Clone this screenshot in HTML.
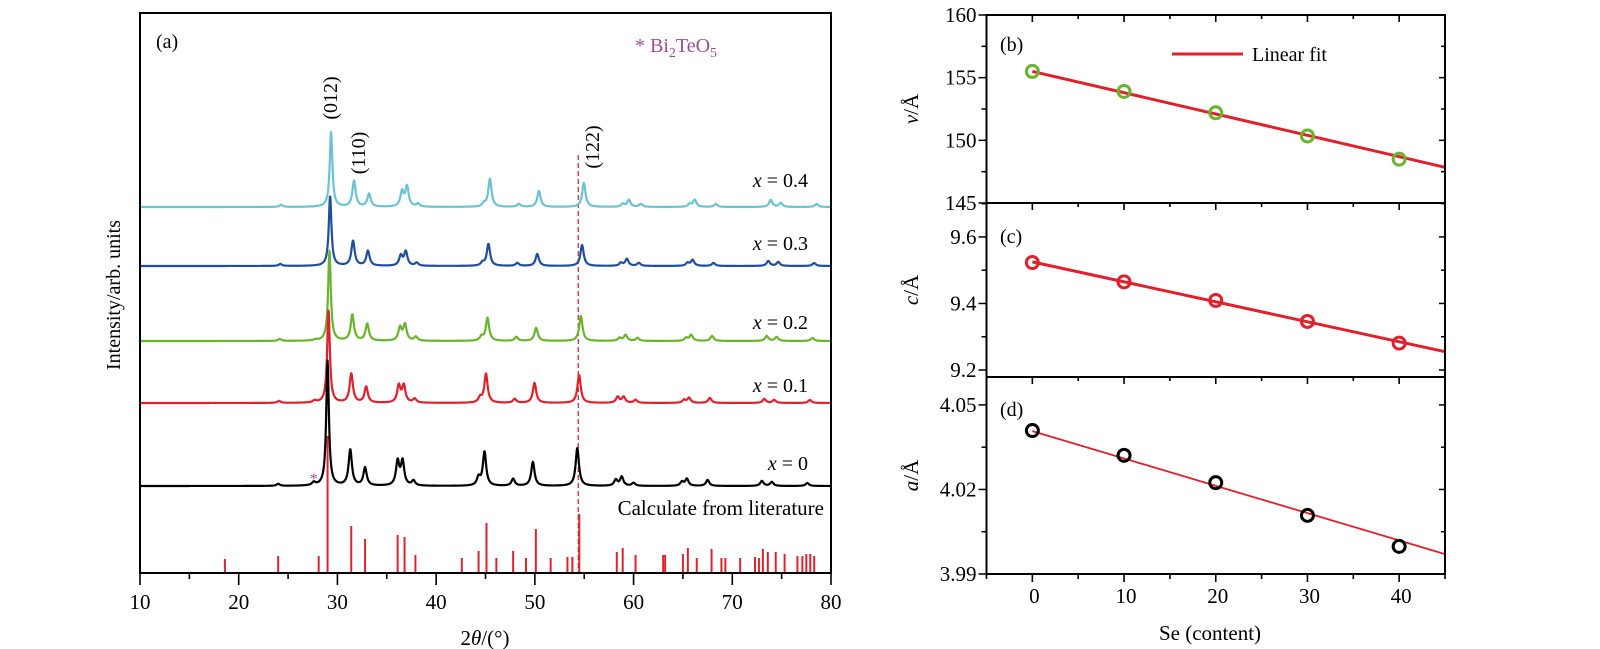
<!DOCTYPE html>
<html><head><meta charset="utf-8">
<style>
html,body{margin:0;padding:0;background:#fff;}
svg{display:block;font-family:"Liberation Serif",serif;}
</style></head>
<body>
<svg id="fig" width="1600" height="649" viewBox="0 0 1600 649" xmlns="http://www.w3.org/2000/svg"></svg>
<script>
// ---------- Panel (a) data ----------
const peakPos = [24.0, 27.6, 29.0, 31.3, 32.8, 36.1, 36.6, 37.7, 44.3, 44.9, 47.8, 49.8, 54.3, 58.2, 58.8, 60.0, 64.9, 65.4, 67.5, 73.0, 74.0, 77.6];
const sampleLabels = ["x = 0", "x = 0.1", "x = 0.2", "x = 0.3", "x = 0.4"];
const sampleShift = [0, 0.15, 0.3, 0.4, 0.55];
const peaksX0  = [2, 3, 125, 36, 18, 24, 24, 5, 8, 34, 7, 24, 38, 6, 9, 3, 4, 7, 6, 5, 4, 3];
const peaksX01 = [2, 2, 93, 29, 16, 17, 17, 4, 5, 29, 4, 20, 28, 6, 6, 3, 3, 5, 5, 4, 3, 3];
const peaksX02 = [2, 1, 90, 26, 17, 13, 16, 4, 4, 23, 4, 13, 25, 3, 6, 3, 3, 6, 5, 5, 4, 3];
const peaksX03 = [2, 0, 70, 25, 15, 10, 14, 3, 3, 22, 3, 12, 21, 3, 7, 3, 3, 6, 3, 5, 4, 3];
const peaksX04 = [2, 0, 75, 26, 13, 15, 20, 3, 3, 28, 3, 16, 24, 3, 7, 3, 3, 7, 3, 7, 4, 3];
const sampleOffset = [87, 170, 232, 307, 366];   // vertical stacking offsets (intensity units)
const refPos = [18.6, 24.0, 28.1, 29.0, 31.4, 32.8, 36.1, 36.8, 37.9, 42.6, 44.3, 45.1, 46.1, 47.8, 49.1, 50.1, 51.6, 53.3, 53.8, 54.5, 58.3, 58.9, 60.2, 63.0, 63.2, 65.0, 65.5, 66.4, 67.9, 68.9, 69.3, 70.8, 72.3, 72.7, 73.1, 73.6, 74.4, 75.3, 76.6, 77.1, 77.5, 77.9, 78.3];
const refInt = [14, 17, 17, 137, 47, 34, 38, 36, 18, 15, 22, 50, 15, 22, 15, 44, 15, 16, 16, 59, 21, 25, 18, 18, 18, 19, 25, 15, 24, 15, 15, 15, 16, 15, 24, 21, 21, 19, 17, 17, 19, 19, 17];
const xTicks = [10, 20, 30, 40, 50, 60, 70, 80];

// ---------- Panels (b)-(d) data ----------
const seContent = [0, 10, 20, 30, 40];
const volV = [155.5, 153.9, 152.2, 150.35, 148.5];
const latC = [9.523, 9.465, 9.409, 9.346, 9.281];
const latA = [4.0409, 4.0321, 4.0224, 4.0108, 3.9998];
const fitV = [155.5, -0.170];
const fitC = [9.525, -0.0060];
const fitA = [4.0407, -0.00097];
const seTicks = [0, 10, 20, 30, 40];
const vTicks = [145, 150, 155, 160];
const cTicks = [9.2, 9.4, 9.6];
const aTicks = [3.99, 4.02, 4.05];

const NS = "http://www.w3.org/2000/svg";
const svg = document.getElementById("fig");
function el(tag, attrs, parent) {
  const e = document.createElementNS(NS, tag);
  for (const k in attrs) e.setAttribute(k, attrs[k]);
  (parent || svg).appendChild(e);
  return e;
}

// ===== Panel (a) =====
const A = {l: 140, r: 831, t: 13, b: 573};
const ax = v => A.l + (v - 10) / 70 * (A.r - A.l);
const ay = v => A.b - v;   // 1 intensity unit = 1 px
const gA = el("g", {});



// reference bars
refPos.forEach((p, i) => {
  const b = el("line", {x1: ax(p), x2: ax(p), y1: ay(0), y2: ay(refInt[i]), stroke: "#d9262e", "stroke-width": 2}, gA);
  
  
});
// dashed line (122)
const dl = el("line", {x1: ax(54.4), x2: ax(54.4), y1: 155, y2: A.b, stroke: "#c8323a", "stroke-width": 1.3, "stroke-dasharray": "5,3"}, gA);



const samplePeaks = [peaksX0, peaksX01, peaksX02, peaksX03, peaksX04];
const sampleColors = ["#000000", "#e0202a", "#6ab42d", "#1f4e9e", "#6cc3d0"];
const order = [4, 3, 2, 1, 0];
order.forEach(si => {
  const hts = samplePeaks[si];
  let d = "";
  for (let t = 10; t <= 80.0001; t += 0.04) {
    let s = 0;
    peakPos.forEach((p, k) => {
      const c = p + sampleShift[si] * p / 45;
      const w = p < 30 && k === 2 ? 0.16 : 0.2;
      const dx = (t - c) / w;
      s += hts[k] / (1 + dx * dx);
    });
    d += (d ? "L" : "M") + ax(t).toFixed(2) + "," + ay(sampleOffset[si] + s).toFixed(2);
  }
  const path = el("path", {d: d, fill: "none", stroke: sampleColors[si], "stroke-width": 2.2, "stroke-linejoin": "round"}, gA);
  
  
});
const labY = [463, 385, 322, 243, 180];
sampleLabels.forEach((lab, i) => {
  const parts = lab.split(" = ");
  const tx = el("text", {x: 808, y: labY[i] + 7, "text-anchor": "end", "font-size": 20}, gA);
  tx.innerHTML = '<tspan font-style="italic">' + parts[0] + '</tspan> = ' + parts[1];
  
  
});
// asterisk
const ast = el("text", {x: ax(27.6), y: 484, "text-anchor": "middle", "font-size": 16, fill: "#9b4f96"}, gA);
ast.textContent = "*";



// frame
const fr = el("rect", {x: A.l, y: A.t, width: A.r - A.l, height: A.b - A.t, fill: "none", stroke: "#000", "stroke-width": 2}, gA);


// ticks
for (let v = 10; v <= 80; v += 5) {
  const major = v % 10 === 0;
  const tk = el("line", {x1: ax(v), x2: ax(v), y1: A.b, y2: A.b + (major ? 12 : 6), stroke: "#000", "stroke-width": 1.6}, gA);
  
  
}
xTicks.forEach(v => {
  const t = el("text", {x: ax(v), y: 609, "text-anchor": "middle", "font-size": 21}, gA);
  t.textContent = v;
  
  
});
function txt(x, y, html, size, name, extra) {
  const t = el("text", Object.assign({x: x, y: y, "font-size": size}, extra || {}));
  t.innerHTML = html;
  
  
  return t;
}
txt(485, 645, '2<tspan font-style="italic">θ</tspan>/(°)', 21, 'x-axis-title', {"text-anchor": "middle"});
txt(120, 295, 'Intensity/arb. units', 20, 'y-axis-title', {"text-anchor": "middle", transform: "rotate(-90 120 295)"});
txt(156, 48, '(a)', 20, 'panel-label-a');
txt(635, 52, '* Bi<tspan font-size="14" dy="5">2</tspan><tspan dy="-5">TeO</tspan><tspan font-size="14" dy="5">5</tspan>', 20, 'impurity-legend', {fill: "#9b4f96"});
txt(824, 515, 'Calculate from literature', 21, 'reference-label', {"text-anchor": "end"});
txt(337, 98, '(012)', 20, 'peak-label-012', {"text-anchor": "middle", transform: "rotate(-90 337 98)"});
txt(365, 153, '(110)', 20, 'peak-label-110', {"text-anchor": "middle", transform: "rotate(-90 365 153)"});
txt(599, 147, '(122)', 20, 'peak-label-122', {"text-anchor": "middle", transform: "rotate(-90 599 147)"});

// ===== Panels (b)-(d) =====
const R = {l: 986.5, r: 1445};
const rx = v => R.l + (v + 5) / 50 * (R.r - R.l);
const panels = [
  {name: "b", t: 15, b: 203, min: 145, max: 160, vals: volV, fit: fitV, ticks: vTicks, minor: 2.5, color: "#6ab42d", ylab: "v", fmt: v => v.toFixed(0), labY: 44, lineW: 3},
  {name: "c", t: 203, b: 377, min: 9.179, max: 9.702, vals: latC, fit: fitC, ticks: cTicks, minor: 0.1, color: "#e0202a", ylab: "c", fmt: v => v.toFixed(1), labY: 236, lineW: 3},
  {name: "d", t: 377, b: 574, min: 3.99, max: 4.0599, vals: latA, fit: fitA, ticks: aTicks, minor: 0.015, color: "#000000", ylab: "a", fmt: v => v.toFixed(2), labY: 409, lineW: 1.8}
];
panels.forEach(P => {
  const g = el("g", {});
  
  
  const py = v => P.b - (v - P.min) / (P.max - P.min) * (P.b - P.t);
  // fit line
  const f = el("line", {x1: rx(0), y1: py(P.fit[0]), x2: rx(45), y2: py(P.fit[0] + P.fit[1] * 45), stroke: "#e0202a", "stroke-width": P.lineW}, g);
  
  
  // markers
  seContent.forEach((s, i) => {
    const c = el("circle", {cx: rx(s), cy: py(P.vals[i]), r: 6, fill: "none", stroke: P.color, "stroke-width": 3}, g);
    
    
  });
  const fr = el("rect", {x: R.l, y: P.t, width: R.r - R.l, height: P.b - P.t, fill: "none", stroke: "#000", "stroke-width": 2}, g);
  
  
  // x ticks at top (inward) and bottom
  for (let v = -5; v <= 45; v += 5) {
    const major = v % 10 === 0;
    if (v > -5 && v < 45) {
      const tk = el("line", {x1: rx(v), x2: rx(v), y1: P.t, y2: P.t + (major ? 7 : 4), stroke: "#000", "stroke-width": 1.6}, g);
      
      
    }
  }
  // y ticks
  for (let v = P.ticks[0]; v <= P.max + 1e-9; v += P.minor) {
    if (v < P.min - 1e-9) continue;
    const major = P.ticks.some(t => Math.abs(t - v) < 1e-6);
    const y = py(v);
    const t1 = el("line", {x1: R.l - (major ? 8 : 5), x2: R.l, y1: y, y2: y, stroke: "#000", "stroke-width": 1.5}, g);
    
    
    const t2 = el("line", {x1: R.r - (major ? 6 : 4), x2: R.r, y1: y, y2: y, stroke: "#000", "stroke-width": 1.5}, g);
    
    
  }
  P.ticks.forEach(v => {
    const t = el("text", {x: R.l - 10, y: py(v) + 7, "text-anchor": "end", "font-size": 21}, g);
    t.textContent = P.fmt(v);
    
    
  });
  const cy = (P.t + P.b) / 2;
  const yl = el("text", {x: 918, y: cy, "text-anchor": "middle", "font-size": 21, transform: "rotate(-90 918 " + cy + ")"}, g);
  yl.innerHTML = '<tspan font-style="italic">' + P.ylab + '</tspan>/Å';
  
  
  const pl = el("text", {x: 1000, y: P.labY + 7, "font-size": 20}, g);
  pl.textContent = "(" + P.name + ")";
  
  
});
// bottom ticks
for (let v = -5; v <= 45; v += 5) {
  const major = v % 10 === 0;
  const tk = el("line", {x1: rx(v), x2: rx(v), y1: 574, y2: 574 + (major ? 8 : 5), stroke: "#000", "stroke-width": 1.6});
  
  
}
seTicks.forEach(v => {
  const t = el("text", {x: rx(v) + 2, y: 603, "text-anchor": "middle", "font-size": 21});
  t.textContent = v;
  
  
});
txt(1210, 640, 'Se (content)', 21, 'se-axis-title', {"text-anchor": "middle"});
// legend
const lg = el("line", {x1: 1172, x2: 1243, y1: 54, y2: 54, stroke: "#e0202a", "stroke-width": 3});


txt(1252, 61, 'Linear fit', 20, 'legend-linear-fit-label');
</script>
</body></html>
